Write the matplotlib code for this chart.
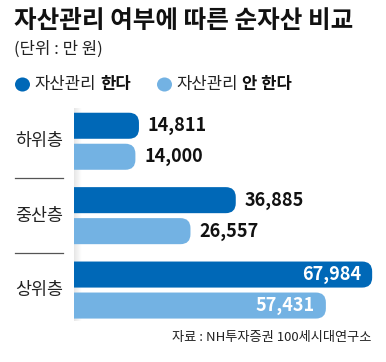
import matplotlib.pyplot as plt
import numpy as np
from matplotlib.patches import FancyBboxPatch, Circle
from matplotlib.transforms import blended_transform_factory

plt.rcParams["font.family"] = ["Noto Sans CJK KR", "DejaVu Sans"]

TITLE = "자산관리 여부에 따른 순자산 비교"
SUBTITLE = "(단위 : 만 원)"
SOURCE = "자료 : NH투자증권 100세시대연구소"
GROUPS = ["하위층", "중산층", "상위층"]
MANAGED = [14811, 36885, 67984]
NOT_MANAGED = [14000, 26557, 57431]

DARK = "#0068b7"
LIGHT = "#73b2e3"

W, H = 386, 362
fig = plt.figure(figsize=(W / 100, H / 100), dpi=100)


def fx(px):
    return px / W


def fy(px):
    return 1 - px / H


# axes box in pixels
AX_L, AX_R, AX_T, AX_B = 74, 381, 105, 327
ax = fig.add_axes([fx(AX_L), fy(AX_B), fx(AX_R - AX_L), (AX_B - AX_T) / H])
ax.set_xlim(0, 70000)
unit_px = 31.0
top = -(141.25 - AX_T) / unit_px
ax.set_ylim(top + (AX_B - AX_T) / unit_px, top)
ax.axis("off")

x_per_px = 70000 / (AX_R - AX_L)
y_per_px = 1 / unit_px
radius_px = 10
r = radius_px * x_per_px
aspect = (radius_px * y_per_px) / r

GROUP_STEP = 2.4
OFFSET = 0.5
BAR_H = 0.84

# faint shadow at left edge
grad = np.linspace(0.10, 0.0, 50).reshape(1, -1)
ax.imshow(np.dstack([np.zeros((1, 50, 3)), grad[..., None]]),
          extent=[0, 8 * x_per_px, top + (AX_B - AX_T) / unit_px - 0.2, top + 0.1],
          aspect="auto", zorder=0)

for i, name in enumerate(GROUPS):
    center = i * GROUP_STEP
    for val, color, off in ((MANAGED[i], DARK, -OFFSET), (NOT_MANAGED[i], LIGHT, OFFSET)):
        y = center + off
        patch = FancyBboxPatch((-3 * r, y - BAR_H / 2), val + 3 * r, BAR_H,
                               boxstyle=f"round,pad=0,rounding_size={r}",
                               mutation_aspect=aspect, fc=color, ec="none",
                               zorder=2, clip_on=True)
        ax.add_patch(patch)
        label = f"{val:,}"
        if val > 50000:
            ax.text(val - 11 * x_per_px, y, label, ha="right", va="center",
                    color="white", fontsize=13, fontweight="bold", zorder=3)
        else:
            ax.text(val + 9 * x_per_px, y, label, ha="left", va="center",
                    color="#111111", fontsize=13, fontweight="bold", zorder=3)

    trans = blended_transform_factory(ax.transAxes, ax.transData)
    ax.text((39 - AX_L) / (AX_R - AX_L), center, name, transform=trans,
            ha="center", va="center", fontsize=12.5, color="#222222")
    if i < len(GROUPS) - 1:
        ax.plot([(15 - AX_L) / (AX_R - AX_L), (63 - AX_L) / (AX_R - AX_L)],
                [center + GROUP_STEP / 2] * 2, transform=trans, clip_on=False,
                color="#555555", lw=0.9)

fig.text(fx(14), fy(21), TITLE, fontsize=17.7, fontweight="bold", va="center",
         color="#111111")
fig.text(fx(14), fy(49), SUBTITLE, fontsize=12, va="center", color="#222222")
fig.text(fx(371), fy(338), SOURCE, fontsize=9.5, ha="right", va="center",
         color="#222222")

# legend
renderer = fig.canvas.get_renderer()
ly = fy(84.5)
for cx, color, bold in ((22.5, DARK, "한다"), (164.5, LIGHT, "안 한다")):
    fig.patches.append(Circle((fx(cx), ly), 7.5 / W, transform=fig.transFigure,
                              fc=color, ec="none"))
    t = fig.text(fx(cx + 12), ly, "자산관리", fontsize=12, va="center",
                 color="#222222")
    bb = t.get_window_extent(renderer)
    fig.text(bb.x1 / W + fx(4), ly, bold, fontsize=12, fontweight="bold", va="center",
             color="#111111")

fig.savefig("out.png", dpi=100)
